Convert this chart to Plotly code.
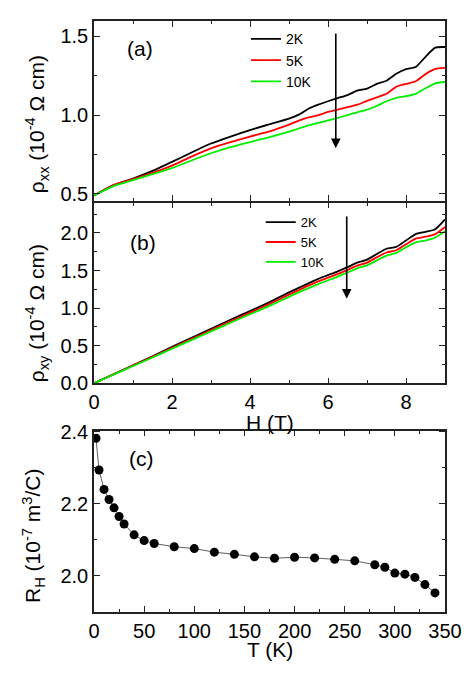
import plotly.graph_objects as go

# field values (T)
field = [0, 0.5, 1, 1.5, 2, 2.5, 3, 3.5, 4, 4.5, 5, 5.25, 5.5, 5.75, 6, 6.25, 6.5,
         6.75, 7, 7.25, 7.5, 7.75, 8, 8.25, 8.5, 8.75, 9]

# rho_xx (1e-4 Ohm cm)
rxx_2k = [0.49, 0.556, 0.598, 0.646, 0.703, 0.763, 0.82, 0.864, 0.905, 0.942, 0.978, 1.003,
          1.04, 1.066, 1.088, 1.108, 1.127, 1.155, 1.168, 1.198, 1.218, 1.262, 1.292, 1.305,
          1.37, 1.428, 1.432]
rxx_5k = [0.49, 0.556, 0.594, 0.633, 0.68, 0.737, 0.789, 0.828, 0.864, 0.897, 0.94, 0.965,
          0.985, 1.0, 1.02, 1.035, 1.05, 1.066, 1.09, 1.112, 1.135, 1.18, 1.198, 1.215,
          1.26, 1.293, 1.30]
rxx_10k = [0.49, 0.55, 0.588, 0.625, 0.664, 0.712, 0.758, 0.797, 0.829, 0.86, 0.895, 0.915,
           0.935, 0.95, 0.967, 0.982, 1.0, 1.018, 1.035, 1.058, 1.088, 1.11, 1.12, 1.135,
           1.17, 1.202, 1.21]

# rho_xy (1e-4 Ohm cm)
rxy_2k = [0, 0.12, 0.24, 0.36, 0.485, 0.605, 0.725, 0.845, 0.962, 1.08, 1.21, 1.27, 1.33,
          1.39, 1.44, 1.49, 1.545, 1.605, 1.645, 1.72, 1.79, 1.815, 1.90, 1.985, 2.015, 2.05, 2.18]
rxy_5k = [0, 0.118, 0.235, 0.352, 0.472, 0.59, 0.708, 0.825, 0.94, 1.055, 1.18, 1.24, 1.30,
          1.355, 1.405, 1.455, 1.51, 1.565, 1.605, 1.675, 1.74, 1.77, 1.85, 1.925, 1.95, 1.985, 2.08]
rxy_10k = [0, 0.115, 0.23, 0.343, 0.46, 0.575, 0.69, 0.805, 0.918, 1.03, 1.15, 1.21, 1.265,
           1.32, 1.37, 1.42, 1.475, 1.53, 1.57, 1.635, 1.70, 1.735, 1.81, 1.875, 1.90, 1.94, 2.025]

# Hall coefficient vs temperature
temp = [2, 5, 10, 15, 20, 25, 30, 40, 50, 60, 80, 100, 120, 140, 160, 180, 200, 220,
        240, 260, 280, 290, 300, 310, 320, 330, 340]
r_hall = [2.382, 2.294, 2.240, 2.212, 2.189, 2.165, 2.144, 2.114, 2.098, 2.090, 2.081,
          2.076, 2.066, 2.060, 2.053, 2.049, 2.052, 2.050, 2.046, 2.042, 2.031, 2.024,
          2.008, 2.005, 1.996, 1.976, 1.953]

labels = ['2K', '5K', '10K']
colors = ['#000000', '#ff0000', '#00ee00']

FONT = 'Liberation Sans, Arial, sans-serif'

fig = go.Figure()

for name, col, ys in zip(labels, colors, [rxx_2k, rxx_5k, rxx_10k]):
    fig.add_trace(go.Scatter(x=field, y=ys, mode='lines', name=name, line=dict(color=col, width=1.8, shape='spline', smoothing=0.6),
                             xaxis='x', yaxis='y', legend='legend'))

for name, col, ys in zip(labels, colors, [rxy_2k, rxy_5k, rxy_10k]):
    fig.add_trace(go.Scatter(x=field, y=ys, mode='lines', name=name, line=dict(color=col, width=1.8, shape='spline', smoothing=0.6),
                             xaxis='x2', yaxis='y2', legend='legend2'))

fig.add_trace(go.Scatter(x=temp, y=r_hall, mode='lines+markers', showlegend=False,
                         line=dict(color='#333333', width=0.8),
                         marker=dict(color='black', size=9),
                         xaxis='x3', yaxis='y3'))

# common axis style
ax = dict(showline=True, linecolor='#222222', linewidth=1.5, mirror='ticks', ticks='inside',
          ticklen=6, tickwidth=1.3, tickcolor='#222222', showgrid=False, zeroline=False,
          automargin=False,
          tickfont=dict(size=20, color='black', family=FONT),
          minor=dict(ticks='inside', ticklen=3.5, tickwidth=1.2, tickcolor='#222222', showgrid=False))

title_font = dict(size=21, color='black', family=FONT)

# page body has an 8px margin, so the figure is a bit smaller than the window
fig.update_layout(
    width=455, height=657,
    margin=dict(l=86, r=18, t=13, b=53, autoexpand=False),
    plot_bgcolor='white', paper_bgcolor='white',
    font=dict(family=FONT, color='black'),
    xaxis=dict(ax, domain=[0, 1], anchor='y', range=[0, 9], dtick=2, showticklabels=False,
               minor=dict(ax['minor'], dtick=1)),
    yaxis=dict(ax, domain=[0.6954, 1], anchor='x', range=[0.455, 1.597], dtick=0.5, tickformat='.1f',
               minor=dict(ax['minor'], dtick=0.25)),
    xaxis2=dict(ax, domain=[0, 1], anchor='y2', range=[0, 9], dtick=2,
                minor=dict(ax['minor'], dtick=1)),
    yaxis2=dict(ax, domain=[0.387, 0.6928], anchor='x2', range=[0, 2.405], dtick=0.5, tickformat='.1f',
                minor=dict(ax['minor'], dtick=0.25)),
    xaxis3=dict(ax, domain=[0, 1], anchor='y3', range=[0, 350], dtick=50,
                minor=dict(ax['minor'], dtick=25)),
    yaxis3=dict(ax, domain=[0, 0.3068], anchor='x3', range=[1.9, 2.403], dtick=0.2, tickformat='.1f',
                minor=dict(ax['minor'], dtick=0.1)),
    legend=dict(x=0.433, y=0.996, xanchor='left', yanchor='top', bgcolor='rgba(0,0,0,0)',
                font=dict(size=14, family=FONT), tracegroupgap=0),
    legend2=dict(x=0.475, y=0.685, xanchor='left', yanchor='top', bgcolor='rgba(0,0,0,0)',
                 font=dict(size=13, family=FONT), tracegroupgap=0),
)

# axis titles as annotations so they can sit where the original has them
titles = [
    ('ρ<sub>xx</sub> (10<sup>-4</sup> Ω cm)', -0.1615, 0.826, -90),
    ('ρ<sub>xy</sub> (10<sup>-4</sup> Ω cm)', -0.1615, 0.506, -90),
    ('R<sub>H</sub> (10<sup>-7</sup> m<sup>3</sup>/C)', -0.173, 0.129, -90),
    ('H (T)', 0.5, 0.320, 0),
    ('T (K)', 0.5, -0.064, 0),
]
for txt, xx, yy, ang in titles:
    fig.add_annotation(text=txt, xref='paper', yref='paper', x=xx, y=yy, textangle=ang,
                       xanchor='center', yanchor='middle', showarrow=False, font=title_font)

# panel labels (placed in each panel's data units)
for txt, xr, yr, xx, yy in [('(a)', 'x', 'y', 1.17, 1.424), ('(b)', 'x2', 'y2', 1.25, 1.871),
                            ('(c)', 'x3', 'y3', 47.6, 2.327)]:
    fig.add_annotation(text=txt, xref=xr, yref=yr, x=xx, y=yy, xanchor='center', yanchor='middle',
                       showarrow=False, font=dict(size=21, family=FONT, color='black'))

# arrows showing increasing temperature
fig.add_annotation(xref='x', yref='y', x=6.2, y=0.79, ax=6.2, ay=1.527, axref='x', ayref='y',
                   showarrow=True, arrowhead=2, arrowsize=1.2, arrowwidth=1.6, arrowcolor='black', text='')
fig.add_annotation(xref='x2', yref='y2', x=6.48, y=1.126, ax=6.48, ay=2.238, axref='x2', ayref='y2',
                   showarrow=True, arrowhead=2, arrowsize=1.2, arrowwidth=1.6, arrowcolor='black', text='')

fig.write_html('out.html')
